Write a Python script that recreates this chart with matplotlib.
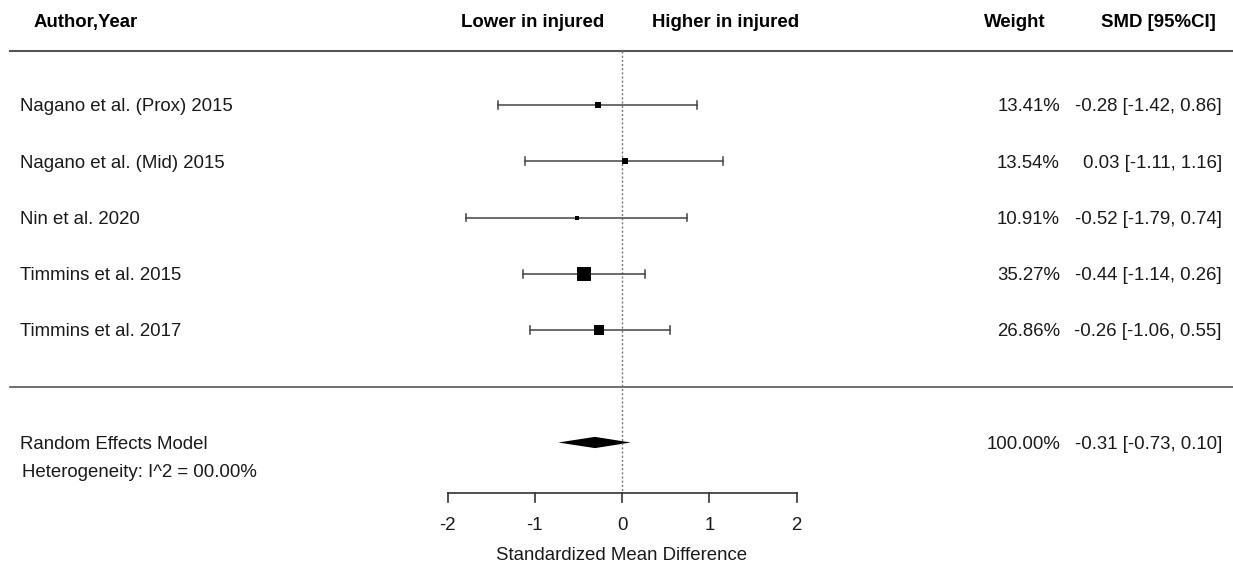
import matplotlib.pyplot as plt
from matplotlib.transforms import blended_transform_factory

plt.rcParams['font.family'] = ['Liberation Sans', 'DejaVu Sans']

# data
studies = ['Nagano et al. (Prox) 2015', 'Nagano et al. (Mid) 2015', 'Nin et al. 2020',
           'Timmins et al. 2015', 'Timmins et al. 2017']
smd = [-0.28, 0.03, -0.52, -0.44, -0.26]
ci_low = [-1.42, -1.11, -1.79, -1.14, -1.06]
ci_high = [0.86, 1.16, 0.74, 0.26, 0.55]
weights = [13.41, 13.54, 10.91, 35.27, 26.86]

re_label = 'Random Effects Model'
re_est = -0.31
re_low = -0.73
re_high = 0.10
heterogeneity = 'Heterogeneity: I^2 = 00.00%'

xticks = [-2, -1, 0, 1, 2]

fig = plt.figure(figsize=(12.33, 5.67), dpi=100)
ax = fig.add_axes([0, 0, 1, 1])
# x in SMD units (0 at px 622, 87.25 px per unit); y in row units (row 0 at px 105, 56.25 px per row)
ax.set_xlim(-622 / 87.25, (1233 - 622) / 87.25)
ax.set_ylim((567 - 105) / 56.25, -105 / 56.25)
ax.axis('off')

tf = blended_transform_factory(fig.transFigure, ax.transData)
fs = 13.4
txtc = '#1a1a1a'
linec = '#444444'
dy = 0.035  # small nudge so text sits on the row like in R output

# headers
y_head = -1.46
ax.text(34 / 1233, y_head, 'Author,Year', transform=tf, fontsize=13.4, fontweight='bold', va='center')
ax.text(533 / 1233, y_head, 'Lower in injured', transform=tf, fontsize=13.4, fontweight='bold', va='center', ha='center')
ax.text(726 / 1233, y_head, 'Higher in injured', transform=tf, fontsize=13.4, fontweight='bold', va='center', ha='center')
ax.text(1046 / 1233, y_head, 'Weight', transform=tf, fontsize=13.4, fontweight='bold', va='center', ha='right')
ax.text(1216 / 1233, y_head, 'SMD [95%CI]', transform=tf, fontsize=13.4, fontweight='bold', va='center', ha='right')

# separator lines
ax.plot([10 / 1233, 1], [-0.96, -0.96], transform=tf, color='#555555', lw=1.5)
ax.plot([10 / 1233, 1], [5.01, 5.01], transform=tf, color='#555555', lw=1.2)

# reference line at 0
ax.plot([0, 0], [-0.96, 6.9], color='#777777', lw=1, ls=(0, (1.5, 1.5)))

# study rows
wmin, wmax = min(weights), max(weights)
for i, (name, m, lo, hi, w) in enumerate(zip(studies, smd, ci_low, ci_high, weights)):
    ax.plot([lo, hi], [i, i], color=linec, lw=1.1)
    ax.plot([lo, lo], [i - 0.07, i + 0.07], color=linec, lw=1.1)
    ax.plot([hi, hi], [i - 0.07, i + 0.07], color=linec, lw=1.1)
    side = 0.5 + (w - wmin) / (wmax - wmin)  # metafor-style scaling 0.5..1.5
    ax.plot(m, i, marker='s', color='black', markersize=side * 6.3, markeredgewidth=0)
    ax.text(20 / 1233, i + dy, name, transform=tf, fontsize=fs, color=txtc, va='center')
    ax.text(1060 / 1233, i + dy, f'{w:.2f}%', transform=tf, fontsize=fs, color=txtc, va='center', ha='right')
    ax.text(1222 / 1233, i + dy, f'{m:.2f} [{lo:.2f}, {hi:.2f}]', transform=tf, fontsize=fs, color=txtc,
            va='center', ha='right')

# summary diamond
ys = 6
ax.fill([re_low, re_est, re_high, re_est], [ys, ys - 0.1, ys, ys + 0.1], color='black', lw=0)
ax.text(20 / 1233, ys + dy, re_label, transform=tf, fontsize=fs, color=txtc, va='center')
ax.text(1060 / 1233, ys + dy, '100.00%', transform=tf, fontsize=fs, color=txtc, va='center', ha='right')
ax.text(1222 / 1233, ys + dy, f'{re_est:.2f} [{re_low:.2f}, {re_high:.2f}]', transform=tf, fontsize=fs,
        color=txtc, va='center', ha='right')
ax.text(22 / 1233, 6.5 + dy, heterogeneity, transform=tf, fontsize=fs, color=txtc, va='center')

# bottom axis
y_ax = 6.9
ax.plot([xticks[0], xticks[-1]], [y_ax, y_ax], color='#333333', lw=1.2)
for t in xticks:
    ax.plot([t, t], [y_ax, y_ax + 0.16], color='#333333', lw=1.2)
    ax.text(t, y_ax + 0.57, f'{t}', fontsize=fs, color=txtc, ha='center', va='center')
ax.text(0, y_ax + 1.1, 'Standardized Mean Difference', fontsize=fs, color=txtc, ha='center', va='center')

fig.savefig('out.png', dpi=100, facecolor='white')
